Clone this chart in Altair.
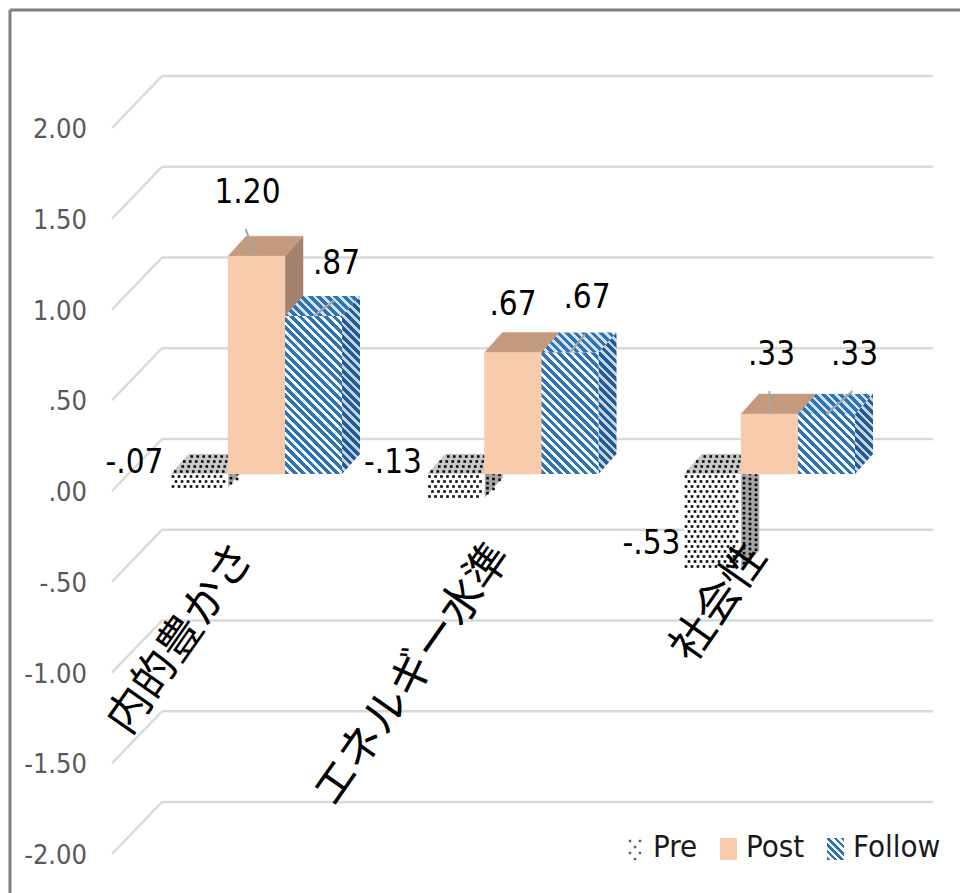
import altair as alt
import pandas as pd

# ---------------- data ----------------
categories = ["内的豊かさ", "エネルギー水準", "社会性"]
series = ["Pre", "Post", "Follow"]
pre_values = [-0.07, -0.13, -0.53]
post_values = [1.20, 0.67, 0.33]
follow_values = [0.87, 0.67, 0.33]
pre_labels = ["-.07", "-.13", "-.53"]
post_labels = ["1.20", ".67", ".33"]
follow_labels = [".87", ".67", ".33"]
tick_values = [2.0, 1.5, 1.0, 0.5, 0.0, -0.5, -1.0, -1.5, -2.0]
tick_labels = ["2.00", "1.50", "1.00", ".50", ".00", "-.50", "-1.00", "-1.50", "-2.00"]

values_by_series = {"Pre": pre_values, "Post": post_values, "Follow": follow_values}
labels_by_series = {"Pre": pre_labels, "Post": post_labels, "Follow": follow_labels}

# ---------------- layout (pixels -> data units) ----------------
WIDTH, HEIGHT = 960, 893
XU, YU = 256.5, 181.5          # px per category step / per value unit
X0PX, Y0PX = 256.5, 474.0      # pixel of first category centre / of value 0 (front plane)
BAR_W = 57 / XU
DEP_X = 18 / XU
DEP_Y = 20 / YU
WALL_DY = 35 / YU
WALL_X0 = (162 - X0PX) / XU
WALL_X1 = (933 - X0PX) / XU
DIAG_X = (112 - X0PX) / XU
DIAG_DY = 52 / YU
TICK_X = (87 - X0PX) / XU
TICK_DY = 54 / YU
CAT_DX = -12 / XU
CAT_Y = (Y0PX - 549) / YU
LABEL_OFFSETS = {"Pre": [(-65, -24), (-63, -35), (-61, -26)],
                 "Post": [(-9, -63), (0, -47), (2, -59)],
                 "Follow": [(23, -52), (17, -54), (28, -59)]}

NARROW = "DejaVu Sans Condensed, Liberation Sans Narrow, Liberation Sans, sans-serif"
CJK = "Noto Sans CJK JP, sans-serif"

xs = alt.Scale(domain=[(0 - X0PX) / XU, (WIDTH - X0PX) / XU], nice=False, zero=False)
ys = alt.Scale(domain=[(Y0PX - HEIGHT) / YU, Y0PX / YU], nice=False, zero=False)


def X(f):
    return alt.X(f, type="quantitative", scale=xs, axis=None)


def Y(f):
    return alt.Y(f, type="quantitative", scale=ys, axis=None)


def stripes(wpx, hpx, fg, bg, period=8.5, frac=0.55):
    span = wpx + hpx
    stops = []
    k = 0
    while k * period / span < 1:
        a = k * period / span
        b = min((k * period + period * frac) / span, 1)
        c = min((k + 1) * period / span, 1)
        stops += [(a, fg), (b, fg), (b, bg), (c, bg)]
        k += 1
    s = span / (wpx ** 2 + hpx ** 2)
    return {"gradient": "linear", "x1": 0, "y1": 1, "x2": s * wpx, "y2": 1 - s * hpx,
            "stops": [{"offset": round(o, 5), "color": c} for o, c in stops]}


# ---------------- geometry ----------------
bars = []
for gi, cat in enumerate(categories):
    for sj, s in enumerate(series):
        v = values_by_series[s][gi]
        x0 = gi + (sj - 1.5) * BAR_W
        bars.append(dict(g=gi, s=s, v=v, x0=x0, x1=x0 + BAR_W, xc=x0 + BAR_W / 2,
                         top=max(v, 0), bot=min(v, 0), id=f"{gi}-{s}"))


def top_rows(b):
    x0, x1, t = b["x0"], b["x1"], b["top"]
    return [dict(id=b["id"], x=x0, y=t, y2=t),
            dict(id=b["id"], x=x0 + DEP_X, y=t + DEP_Y, y2=t),
            dict(id=b["id"], x=x1, y=t + DEP_Y, y2=t),
            dict(id=b["id"], x=x1 + DEP_X, y=t + DEP_Y, y2=t + DEP_Y)]


def side_rows(b):
    x1, t, bo = b["x1"], b["top"], b["bot"]
    return [dict(id=b["id"], x=x1, y=t, y2=bo),
            dict(id=b["id"], x=x1 + DEP_X, y=t + DEP_Y, y2=bo + DEP_Y)]


def pre_dots(b):
    pts = []
    hpx = (b["top"] - b["bot"]) * YU
    # front
    r = 0
    while (r + 0.5) * 5 < hpx:
        st = 3 if r % 2 else 0
        c = 0
        while 2 + st + 6 * c < 56:
            pts.append(dict(x=b["x0"] + (2 + st + 6 * c) / XU, y=b["top"] - (r + 0.5) * 5 / YU, f="front"))
            c += 1
        r += 1
    # top
    for r in range(4):
        d = (r + 0.5) * 5
        st = 3 if r % 2 else 0
        c = 0
        while 2 + st + 6 * c < 56:
            pts.append(dict(x=b["x0"] + (d * 18 / 20 + 2 + st + 6 * c) / XU, y=b["top"] + d / YU, f="top"))
            c += 1
    # side
    for c in range(3):
        e = (c + 0.5) * 6
        r = 0
        while (r + 0.5) * 5 < hpx:
            st = 2.5 if c % 2 else 0
            pts.append(dict(x=b["x1"] + e / XU, y=b["top"] + (e * 20 / 18) / YU - ((r + 0.5) * 5 + st) / YU, f="side"))
            r += 1
    return pts


layers = []
one = pd.DataFrame({"k": [0]})

# border
layers.append(alt.Chart(one).mark_rule(color="#7F7F7F", strokeWidth=3).encode(
    x=alt.value(10), x2=alt.value(WIDTH), y=alt.value(10)))
layers.append(alt.Chart(one).mark_rule(color="#7F7F7F", strokeWidth=3).encode(
    x=alt.value(10), y=alt.value(10), y2=alt.value(HEIGHT)))

# back wall gridlines
grid = pd.DataFrame({"v": tick_values, "lab": tick_labels})
grid["yb"] = grid["v"] + WALL_DY
grid["yd"] = grid["v"] + WALL_DY - DIAG_DY
grid["xw0"] = WALL_X0
grid["xw1"] = WALL_X1
grid["xd"] = DIAG_X
grid["yt"] = grid["v"] + WALL_DY - TICK_DY
grid["xt"] = TICK_X
layers.append(alt.Chart(grid).mark_rule(color="#D9D9D9", strokeWidth=2.5).encode(
    x=X("xw0"), x2="xw1:Q", y=Y("yb")))
layers.append(alt.Chart(grid).mark_rule(color="#D9D9D9", strokeWidth=2.5).encode(
    x=X("xd"), y=Y("yd"), x2="xw0:Q", y2="yb:Q"))
layers.append(alt.Chart(grid).mark_text(align="right", baseline="middle", font=NARROW,
                                        fontSize=27, color="#595959").encode(
    x=X("xt"), y=Y("yt"), text="lab:N"))

colors = {
    "Pre": {"front": "#FFFFFF", "top": "#C8C8C8", "side": "#A6A6A6"},
    "Post": {"front": "#F8CBAD", "top": "#C49A7E", "side": "#A5826E"},
}
follow_style = {"front": ("#2E75B6", "#FFFFFF"), "top": ("#2E75B6", "#D9E2EC"), "side": ("#1F5C99", "#C9D3DD")}

dots = pd.DataFrame([d for b in bars if b["s"] == "Pre" for d in pre_dots(b)])

for face in ["side", "top", "front"]:
    for s in series:
        bs = [b for b in bars if b["s"] == s]
        if s in colors:
            col = colors[s][face]
            if face == "front":
                df = pd.DataFrame(bs)
                layers.append(alt.Chart(df).mark_rect(color=col, stroke=col, strokeWidth=0.5).encode(
                    x=X("x0"), x2="x1:Q", y=Y("top"), y2="bot:Q"))
            else:
                rows = []
                for b in bs:
                    rows += top_rows(b) if face == "top" else side_rows(b)
                df = pd.DataFrame(rows)
                layers.append(alt.Chart(df).mark_area(color=col, stroke=col, strokeWidth=0.5).encode(
                    x=X("x"), y=Y("y"), y2="y2:Q", detail="id:N"))
            if s == "Pre":
                dd = dots[dots["f"] == face]
                layers.append(alt.Chart(dd).mark_square(size=7, color="#000000", opacity=0.95).encode(
                    x=X("x"), y=Y("y")))
        else:
            fg, bg = follow_style[face]
            for b in bs:
                hpx = (b["top"] - b["bot"]) * YU
                if face == "front":
                    grad = stripes(57, hpx, fg, bg)
                    df = pd.DataFrame([b])
                    layers.append(alt.Chart(df).mark_rect(fill=grad).encode(
                        x=X("x0"), x2="x1:Q", y=Y("top"), y2="bot:Q"))
                elif face == "top":
                    grad = stripes(75, 20, fg, bg)
                    df = pd.DataFrame(top_rows(b))
                    layers.append(alt.Chart(df).mark_area(fill=grad).encode(
                        x=X("x"), y=Y("y"), y2="y2:Q", detail="id:N"))
                else:
                    grad = stripes(18, hpx + 20, fg, bg)
                    df = pd.DataFrame(side_rows(b))
                    layers.append(alt.Chart(df).mark_area(fill=grad).encode(
                        x=X("x"), y=Y("y"), y2="y2:Q", detail="id:N"))

# data labels and leader lines
lab_rows, lead_rows = [], []
for b in bars:
    gi = b["g"]
    dx, dy = LABEL_OFFSETS[b["s"]][gi]
    end_px = Y0PX - b["v"] * YU
    lx = b["xc"] + dx / XU
    ly = b["v"] - dy / YU
    lab_rows.append(dict(x=lx, y=ly, t=labels_by_series[b["s"]][gi]))
    start_py = end_px + dy + 36
    if end_px - start_py > 14:
        lead_rows.append(dict(x=lx - 2 / XU, y=(Y0PX - start_py) / YU, x2=b["xc"], y2=b["v"]))
layers.append(alt.Chart(pd.DataFrame(lead_rows)).mark_rule(color="#A6A6A6", strokeWidth=2).encode(
    x=X("x"), y=Y("y"), x2="x2:Q", y2="y2:Q"))
layers.append(alt.Chart(pd.DataFrame(lab_rows)).mark_text(align="center", baseline="middle", font=NARROW,
                                                          fontSize=33, color="#000000").encode(
    x=X("x"), y=Y("y"), text="t:N"))

# category labels
cat_df = pd.DataFrame({"cat": categories, "x": [i + CAT_DX for i in range(len(categories))],
                       "y": [CAT_Y] * len(categories)})
layers.append(alt.Chart(cat_df).mark_text(angle=305, align="right", baseline="middle", font=CJK,
                                          fontSize=44, color="#000000").encode(
    x=X("x"), y=Y("y"), text="cat:N"))

# legend
LEG_ICON_X = [627, 720, 827]
ICON_W, ICON_TOP, ICON_BOT, LEG_Y = 17, 835, 860, 848
for i, s in enumerate(series):
    x0 = LEG_ICON_X[i]
    if s == "Post":
        layers.append(alt.Chart(one).mark_rect(color=colors["Post"]["front"]).encode(
            x=alt.value(x0), x2=alt.value(x0 + ICON_W), y=alt.value(ICON_TOP + 3), y2=alt.value(ICON_BOT)))
    elif s == "Follow":
        layers.append(alt.Chart(one).mark_rect(fill=stripes(ICON_W, ICON_BOT - ICON_TOP - 3, "#2E75B6", "#FFFFFF", period=7)).encode(
            x=alt.value(x0), x2=alt.value(x0 + ICON_W), y=alt.value(ICON_TOP + 3), y2=alt.value(ICON_BOT)))
    else:
        pts = []
        for r in range(4):
            for c in range(3):
                if (r + c) % 2 == 0:
                    pts.append(dict(x=(x0 + 3 + c * 5 - X0PX) / XU, y=(Y0PX - (ICON_TOP + 6 + r * 6)) / YU))
        layers.append(alt.Chart(pd.DataFrame(pts)).mark_square(size=6, color="#1A1A1A").encode(
            x=X("x"), y=Y("y")))
for i, s in enumerate(series):
    layers.append(alt.Chart(one).mark_text(align="left", baseline="middle", font=NARROW, fontSize=31,
                                           color="#1A1A1A", text=s).encode(
        x=alt.value(LEG_ICON_X[i] + ICON_W + 9), y=alt.value(LEG_Y)))

chart = alt.layer(*layers).properties(
    width=WIDTH, height=HEIGHT, autosize=alt.AutoSizeParams(type="none"), padding=0,
    background="#FFFFFF"
).configure_view(stroke=None)

chart.save("out.html", embed_options={"renderer": "svg", "actions": False})
